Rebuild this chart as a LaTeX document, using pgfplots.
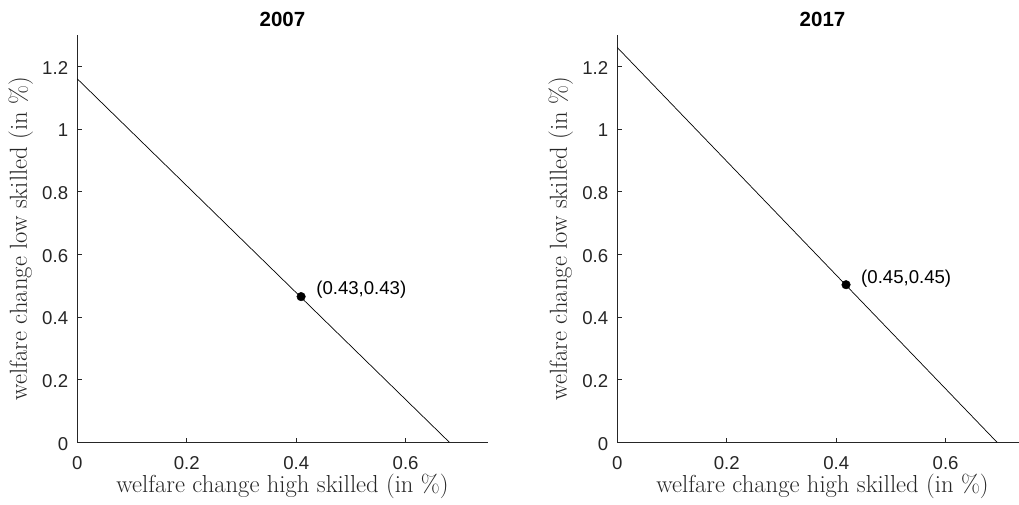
\documentclass[border=0pt]{standalone}
\usepackage{fontspec}
\newfontfamily\helv{Liberation Sans}
\usepackage{pgfplots}
\pgfplotsset{compat=1.18}
\definecolor{axgray}{rgb}{0.15,0.15,0.15}
\tikzset{ptlabel/.style={anchor=west, inner sep=0pt, xshift=15pt, yshift=6.5pt, font=\helv\fontsize{18.6}{21}\selectfont}}
\pgfplotsset{
  panel/.style={
    scale only axis, width=410.4pt, height=407.3pt,
    xmin=0, xmax=0.75, ymin=0, ymax=1.3,
    xtick={0,0.2,0.4,0.6}, ytick={0,0.2,0.4,0.6,0.8,1,1.2},
    axis lines*=left, axis line style={-, axgray, line width=0.6pt},
    tick style={axgray, line width=0.6pt}, tick align=inside, major tick length=4.5pt,
    tick pos=left,
    /pgf/number format/assume math mode=true,
    ticklabel style={font=\helv\fontsize{18.6}{21}\selectfont, text=axgray},
    xticklabel style={anchor=base, inner sep=0pt, yshift=-27.7pt},
    yticklabel style={anchor=east, inner sep=0pt, xshift=-9pt, yshift=-1.5pt},
    title style={at={(axis description cs:0.5,1.0204)}, anchor=base, yshift=-6pt, font=\helv\bfseries\fontsize{20.5}{24}\selectfont},
    xlabel style={at={(axis description cs:0.5,-0.1237)}, anchor=base, font=\fontsize{24.6}{28}\selectfont, text=axgray},
    ylabel style={at={(axis description cs:-0.1226,0.5)}, anchor=base, font=\fontsize{24.6}{28}\selectfont, text=axgray},
    xlabel={welfare change high skilled (in \%)},
    ylabel={welfare change low skilled (in \%)},
    clip=false,
  },
}
\begin{document}
\begin{tikzpicture}
\clip (0,0) rectangle (1019pt,505pt);
\begin{axis}[panel, at={(77.3pt,62.7pt)}, anchor=south west, title={2007}]
  \addplot[black, line width=0.7pt] coordinates {(0,1.16) (0.68,0)};
  \addplot[only marks, mark=*, mark size=4.3pt, black] coordinates {(0.409,0.465)};
  \node[ptlabel] at (axis cs:0.409,0.465) {(0.43,0.43)};
\end{axis}
\begin{axis}[panel, at={(617.3pt,62.7pt)}, anchor=south west, title={2017}]
  \addplot[black, line width=0.7pt] coordinates {(0,1.26) (0.694,0)};
  \addplot[only marks, mark=*, mark size=4.3pt, black] coordinates {(0.418,0.503)};
  \node[ptlabel] at (axis cs:0.418,0.503) {(0.45,0.45)};
\end{axis}
\end{tikzpicture}
\end{document}
